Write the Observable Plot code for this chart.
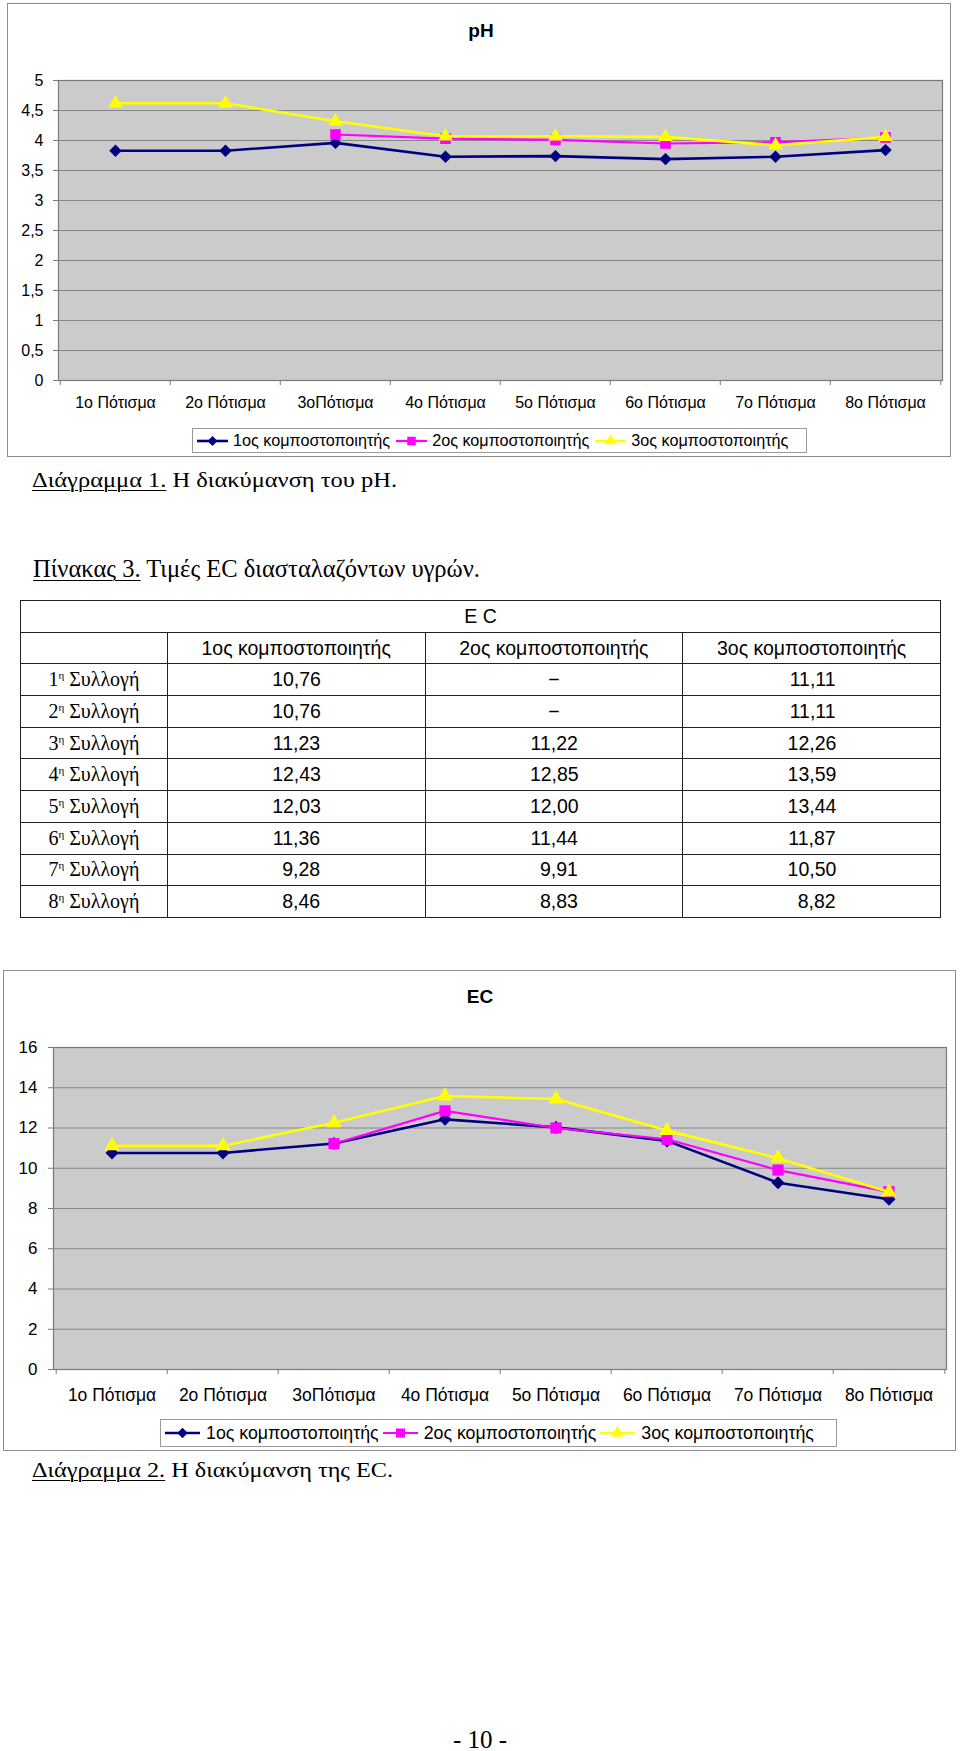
<!DOCTYPE html>
<html>
<head>
<meta charset="utf-8">
<script src="https://cdn.jsdelivr.net/npm/d3@7"></script>
<script src="https://cdn.jsdelivr.net/npm/@observablehq/plot@0.6"></script>
<style>
  html, body { margin: 0; padding: 0; background: #fff; }
  body { width: 960px; height: 1751px; position: relative; overflow: hidden;
         font-family: "Liberation Sans", Arial, sans-serif; color: #000; }
  .frame { position: absolute; border: 1px solid #8c8c8c; box-sizing: border-box; background: #fff; }
  .ctitle { position: absolute; font-weight: bold; font-size: 19px; line-height: 19px; width: 200px; text-align: center; }
  .cap { position: absolute; white-space: nowrap; font-family: "Liberation Serif", "Times New Roman", serif; line-height: 1; }
  .cap span.inner { display: inline-block; transform-origin: 0 0; }
  .u { text-decoration: underline; text-decoration-thickness: 1px; text-underline-offset: 3px; }
  .legend { position: absolute; border: 1px solid #9a9a9a; box-sizing: border-box; background: #fff;
            display: flex; align-items: center; white-space: nowrap; }
  .legend .item { display: flex; align-items: center; }
  .legend svg { display: block; }
  .plotwrap { position: absolute; left: 0; }
  table.ec { position: absolute; left: 20px; top: 600px; width: 921px; border-collapse: collapse;
             font-family: "Liberation Sans", Arial, sans-serif; font-size: 19.5px; }
  table.ec td { border: 1.5px solid #222; text-align: center; padding: 0; height: 30.7px; }
  table.ec td.lab { font-family: "Liberation Serif", "Times New Roman", serif; font-size: 20px; }
  table.ec sup { font-size: 11px; vertical-align: 7px; line-height: 0; }
  table.ec .num { display: inline-block; width: 48px; text-align: right; }
</style>
</head>
<body>
<script>
// ---------------- data ----------------
const cats = ["1ο Πότισμα", "2ο Πότισμα", "3οΠότισμα", "4ο Πότισμα", "5ο Πότισμα", "6ο Πότισμα", "7ο Πότισμα", "8ο Πότισμα"];
const seriesNames = ["1ος κομποστοποιητής", "2ος κομποστοποιητής", "3ος κομποστοποιητής"];
const ph1 = [3.83, 3.83, 3.96, 3.73, 3.74, 3.69, 3.73, 3.84];
const ph2 = [null, null, 4.10, 4.03, 4.01, 3.95, 3.97, 4.05];
const ph3 = [4.62, 4.62, 4.32, 4.07, 4.07, 4.06, 3.92, 4.06];
const ec1 = [10.76, 10.76, 11.23, 12.43, 12.03, 11.36, 9.28, 8.46];
const ec2 = [null, null, 11.22, 12.85, 12.00, 11.44, 9.91, 8.83];
const ec3 = [11.11, 11.11, 12.26, 13.59, 13.44, 11.87, 10.50, 8.82];
const phTicks = [0, 0.5, 1, 1.5, 2, 2.5, 3, 3.5, 4, 4.5, 5];
const ecTicks = [0, 2, 4, 6, 8, 10, 12, 14, 16];
const collections = ["1", "2", "3", "4", "5", "6", "7", "8"];

// ---------------- styles ----------------
const colors = ["#000080", "#ff00ff", "#ffff00"];
const symbols = ["diamond2", "square", "triangle"];
const radii = [5.6, 6, 5.4];
const lineW = [2.6, 2.2, 2.6];
const plotBg = "#cbcbcb";
const gridColor = "#878787";
const commaFmt = d => String(d).replace(".", ",");

function el(tag, cls, parent, css) {
  const e = document.createElement(tag);
  if (cls) e.className = cls;
  if (css) Object.assign(e.style, css);
  (parent || document.body).appendChild(e);
  return e;
}

function makeChart(cfg) {
  const W = 960;
  const bw = (W - cfg.ml - cfg.mr) / cats.length;
  const marks = [
    Plot.frame({fill: plotBg, stroke: null}),
    Plot.gridY(cfg.ticks, {stroke: gridColor, strokeOpacity: 1, strokeWidth: 1.2}),
    Plot.frame({stroke: "#7a7a7a", fill: null, strokeWidth: 1.2}),
    Plot.axisY(cfg.ticks, {label: null, tickSize: 5, tickPadding: cfg.ytp, tickFormat: commaFmt, stroke: "#7a7a7a", fill: "#000", fontSize: cfg.yfs}),
    Plot.axisX({label: null, tickSize: 0, tickPadding: cfg.xtp, fill: "#000", fontSize: cfg.xfs}),
    Plot.axisX({label: null, tickSize: 5, tickFormat: () => "", dx: -bw / 2, stroke: "#7a7a7a"}),
    Plot.axisX([cats[cats.length - 1]], {label: null, tickSize: 5, tickFormat: () => "", dx: bw / 2, stroke: "#7a7a7a"})
  ];
  cfg.values.forEach((vals, si) => {
    const d = vals.map((v, i) => ({cat: cats[i], v}));
    marks.push(Plot.line(d, {x: "cat", y: "v", stroke: colors[si], strokeWidth: lineW[si]}));
    marks.push(Plot.dot(d.filter(r => r.v != null), {x: "cat", y: "v", symbol: symbols[si], fill: colors[si], stroke: "none", r: radii[si] * cfg.rs}));
  });
  const svg = Plot.plot({
    width: W, height: cfg.height,
    marginLeft: cfg.ml, marginRight: cfg.mr, marginTop: cfg.mt, marginBottom: cfg.mb,
    x: {type: "band", domain: cats, padding: 0, label: null},
    y: {domain: cfg.domain, label: null},
    style: {background: "transparent", fontFamily: "'Liberation Sans', Arial, sans-serif", fontSize: "16px", color: "#000", overflow: "visible"},
    marks
  });
  const wrap = el("div", "plotwrap", document.body, {top: cfg.top + "px"});
  wrap.appendChild(svg);
}

function legend(cfg) {
  const box = el("div", "legend", document.body, {left: cfg.left + "px", top: cfg.top + "px", width: cfg.width + "px", height: cfg.height + "px", paddingLeft: cfg.pad + "px", fontSize: cfg.fs + "px", gap: cfg.gap + "px"});
  seriesNames.forEach((name, i) => {
    const it = el("span", "item", box, {gap: cfg.igap + "px"});
    const sym = d3.symbol(d3[{diamond2: "symbolDiamond2", square: "symbolSquare", triangle: "symbolTriangle"}[symbols[i]]], Math.PI * Math.pow(radii[i] * cfg.rs, 2))();
    it.innerHTML = `<svg width="${cfg.iw}" height="16"><line x1="0" x2="${cfg.iw}" y1="8" y2="8" stroke="${colors[i]}" stroke-width="${lineW[i]}"/><path d="${sym}" transform="translate(${cfg.iw / 2},8)" fill="${colors[i]}"/></svg>`;
    el("span", null, it).textContent = name;
  });
}

function caption(html, left, top, fs, target) {
  const c = el("div", "cap", document.body, {left: left + "px", top: top + "px", fontSize: fs + "px"});
  const inner = el("span", "inner", c);
  inner.innerHTML = html;
  if (target) {
    const w = inner.getBoundingClientRect().width;
    inner.style.transform = `scaleX(${target / w})`;
  }
}

// ---------------- pH chart ----------------
el("div", "frame", document.body, {left: "7px", top: "3px", width: "944px", height: "454px"});
el("div", "ctitle", document.body, {left: "381px", top: "21px"}).textContent = "pH";
makeChart({top: 50, height: 380, ml: 58, mr: 18, mt: 30, mb: 50, domain: [0, 5], ticks: phTicks,
           values: [ph1, ph2, ph3], ytp: 10, xtp: 16.5, yfs: 16, xfs: 16, rs: 1});
legend({left: 192, top: 428, width: 615, height: 25, pad: 4, fs: 16.2, gap: 6, igap: 5, iw: 31, rs: 0.8});
caption(`<span class="u">Διάγραμμα 1.</span> Η διακύμανση του pH.`, 32, 468.5, 22, 365);

// ---------------- table ----------------
caption(`<span class="u">Πίνακας 3.</span> Τιμές EC διασταλαζόντων υγρών.`, 33, 556, 25, 447);
const tbl = el("table", "ec");
const fmtVal = v => v == null ? "−" : `<span class="num">${v.toFixed(2).replace(".", ",")}</span>`;
let html = `<colgroup><col style="width:147px"><col style="width:258px"><col style="width:258px"><col style="width:258px"></colgroup>`;
html += `<tr><td colspan="4">E C</td></tr>`;
html += `<tr><td></td>${seriesNames.map(n => `<td>${n}</td>`).join("")}</tr>`;
collections.forEach((n, i) => {
  html += `<tr><td class="lab">${n}<sup>η</sup> Συλλογή</td><td>${fmtVal(ec1[i])}</td><td>${fmtVal(ec2[i])}</td><td>${fmtVal(ec3[i])}</td></tr>`;
});
tbl.innerHTML = html;

// ---------------- EC chart ----------------
el("div", "frame", document.body, {left: "3px", top: "970px", width: "953px", height: "481px"});
el("div", "ctitle", document.body, {left: "380px", top: "987px"}).textContent = "EC";
makeChart({top: 1020, height: 390, ml: 53, mr: 14, mt: 27, mb: 41, domain: [0, 16], ticks: ecTicks,
           values: [ec1, ec2, ec3], ytp: 11, xtp: 19.5, yfs: 17, xfs: 17.5, rs: 1.05});
legend({left: 160, top: 1419, width: 677, height: 28, pad: 4, fs: 17.8, gap: 4, igap: 6, iw: 35, rs: 0.85});
caption(`<span class="u">Διάγραμμα 2.</span> Η διακύμανση της EC.`, 32, 1458.5, 22, 361);

// ---------------- page number ----------------
const pn = el("div", "cap", document.body, {left: "0px", width: "960px", textAlign: "center", top: "1727px", fontSize: "25px"});
pn.textContent = "- 10 -";
</script>
</body>
</html>
